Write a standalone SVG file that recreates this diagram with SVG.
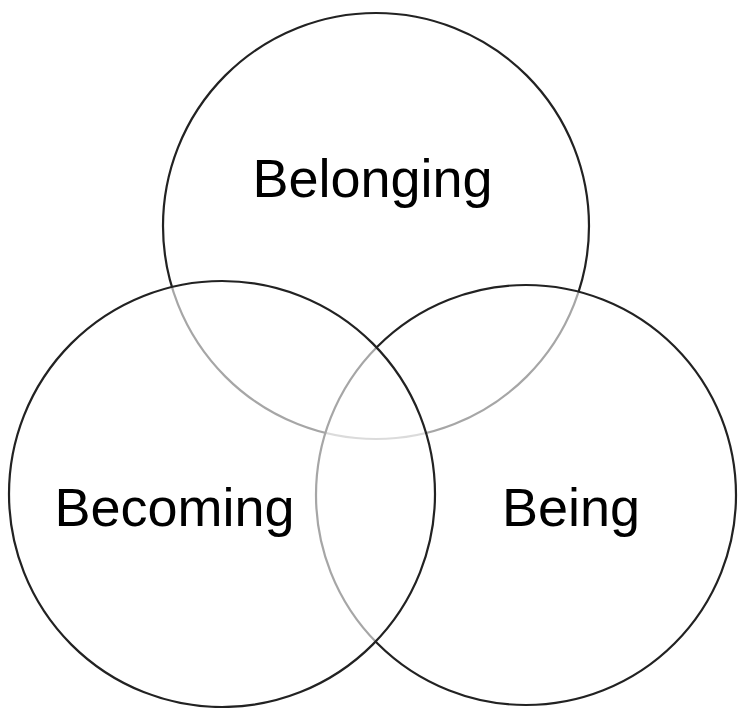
<svg xmlns="http://www.w3.org/2000/svg" width="738" height="708" viewBox="0 0 738 708">
<style>
.c{fill:#fff;fill-opacity:0.6;stroke:#222;stroke-width:2.2}
.t{font-family:"Liberation Sans",Arial,sans-serif;font-size:54px;fill:#000;text-anchor:middle}
</style>
<rect width="738" height="708" fill="#fff"/>
<g id="belonging">
<circle class="c" cx="376" cy="226" r="213"/>
</g>
<g id="being">
<circle class="c" cx="526" cy="495" r="210"/>
</g>
<g id="becoming">
<circle class="c" cx="222" cy="494" r="213"/>
</g>
<g id="labels">
<text class="t" x="372.5" y="197">Belonging</text>
<text class="t" x="174.5" y="526">Becoming</text>
<text class="t" x="571" y="526">Being</text>
</g>
<g id="connectors"/>
</svg>
